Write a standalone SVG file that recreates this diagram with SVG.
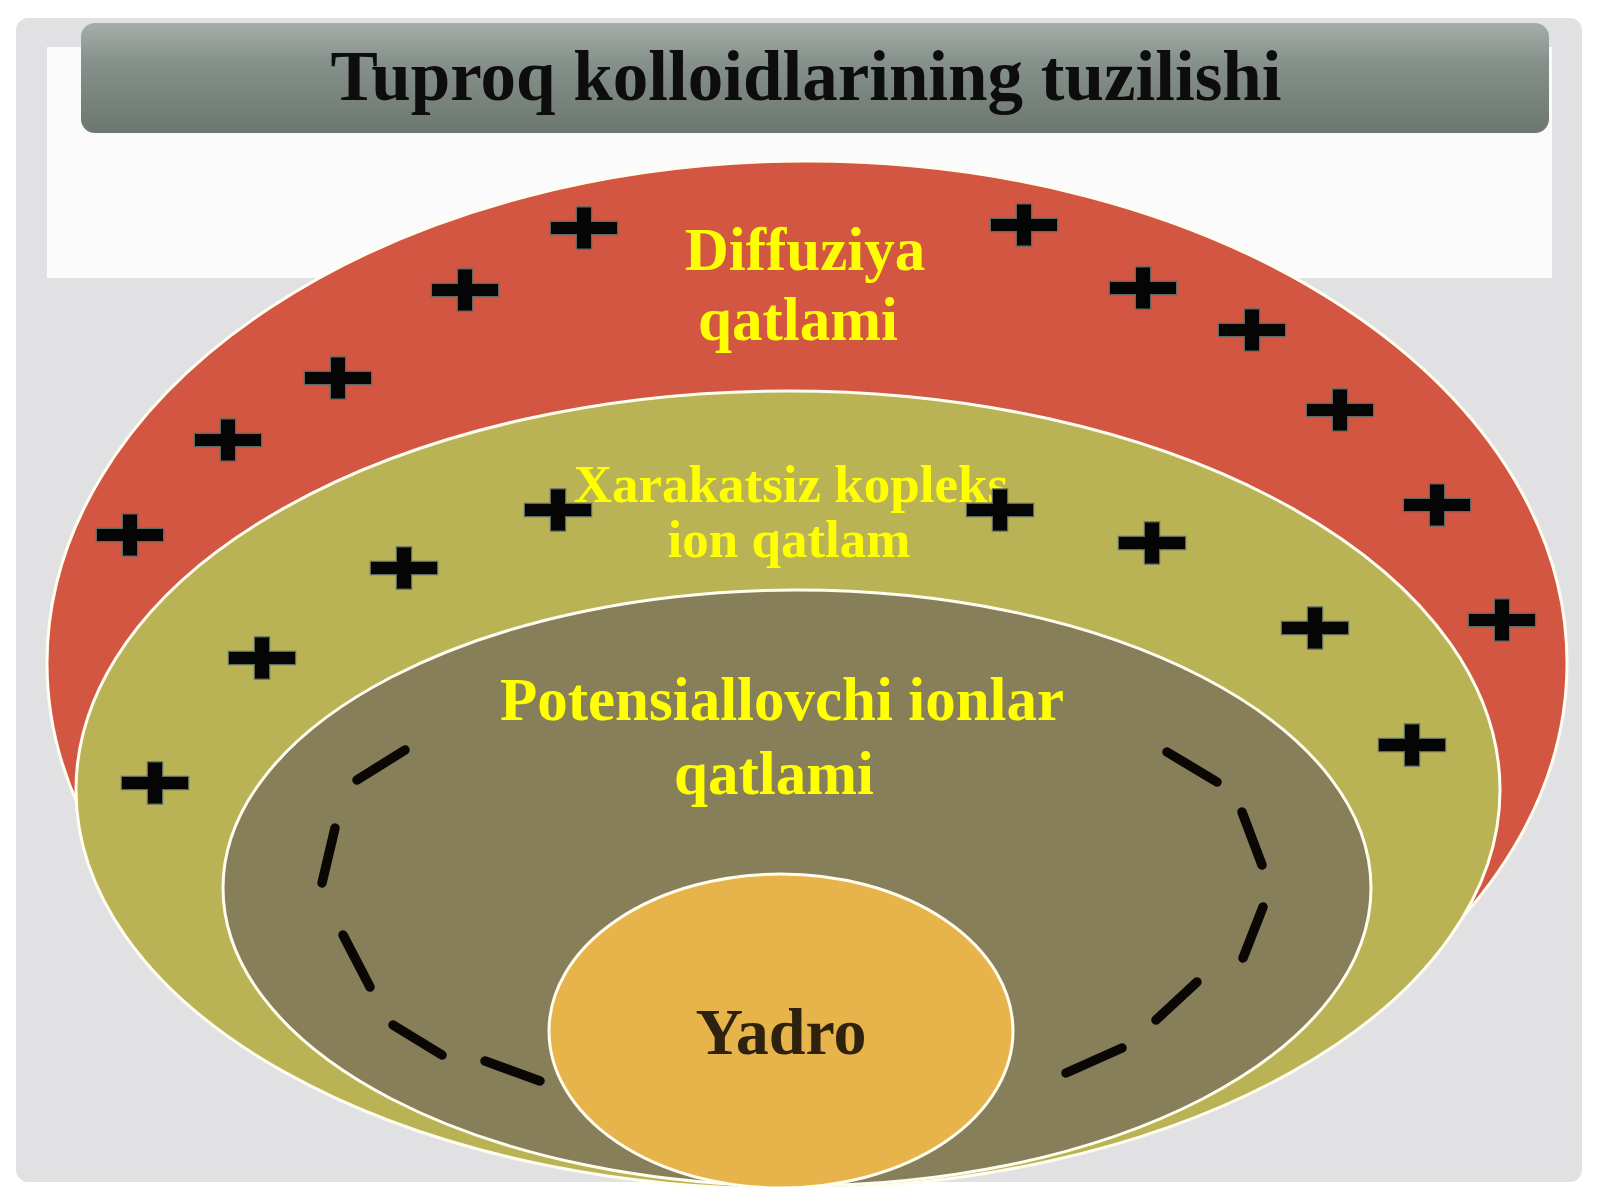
<svg xmlns="http://www.w3.org/2000/svg" xmlns:xlink="http://www.w3.org/1999/xlink" width="1600" height="1200" viewBox="0 0 1600 1200">
  <style>
    .serif { font-family: "Liberation Serif", "Times New Roman", "DejaVu Serif", serif; font-weight: bold; }
    .lbl { fill: #ffff00; text-anchor: middle; }
    .layer { stroke: #fffdf0; stroke-width: 3; }
    .plus { fill: #050505; stroke: #5f6a62; stroke-width: 2.5; paint-order: stroke; }
    .dash { stroke: #0a0704; stroke-width: 9.5; stroke-linecap: round; fill: none; }
  </style>
  <defs>
    <linearGradient id="barGrad" x1="0" y1="0" x2="0" y2="1">
      <stop offset="0" stop-color="#a5aea9"/>
      <stop offset="0.35" stop-color="#87918b"/>
      <stop offset="1" stop-color="#6c7770"/>
    </linearGradient>
    <clipPath id="slideClip">
      <rect x="0" y="0" width="1600" height="1187"/>
    </clipPath>
    <path id="plus" d="M-33,-6 H-7 V-20.5 H7 V-6 H33 V6 H7 V20.5 H-7 V6 H-33 Z"/>
  </defs>

  <rect x="0" y="0" width="1600" height="1200" fill="#ffffff"/>

  <g id="panel">
    <rect x="16" y="18" width="1566" height="1164" rx="12" fill="#e1e1e3"/>
    <rect x="47" y="47" width="1505" height="231" fill="#fbfbfb"/>
  </g>

  <g id="title">
    <rect x="81" y="23" width="1468" height="110" rx="14" fill="url(#barGrad)"/>
    <text class="serif" x="806" y="100" font-size="71" text-anchor="middle" fill="#0d0d0d">Tuproq kolloidlarining tuzilishi</text>
  </g>

  <g clip-path="url(#slideClip)">
    <g id="layer-diffuziya">
      <ellipse class="layer" cx="807" cy="663" rx="760" ry="502" fill="#d25641"/>
    </g>

    <g id="layer-xarakatsiz">
      <ellipse class="layer" cx="788" cy="790" rx="712" ry="399" fill="#bab356"/>
    </g>

    <g id="layer-potensial">
      <ellipse class="layer" cx="797" cy="888" rx="574" ry="298" fill="#867f5a"/>
    </g>

    <g id="yadro">
      <ellipse class="layer" cx="781" cy="1031" rx="232" ry="157" fill="#e7b44b"/>
      <text class="serif" x="781" y="1054" font-size="66" text-anchor="middle" fill="#2e220e">Yadro</text>
    </g>
  </g>

  <g id="labels" class="serif">
    <text class="lbl" x="805" y="270" font-size="61">Diffuziya</text>
    <text class="lbl" x="798" y="340" font-size="61">qatlami</text>
    <text class="lbl" x="791" y="502" font-size="53">Xarakatsiz kopleks</text>
    <text class="lbl" x="789" y="557" font-size="53">ion qatlam</text>
    <text class="lbl" x="782" y="720" font-size="61">Potensiallovchi ionlar</text>
    <text class="lbl" x="774" y="794" font-size="61">qatlami</text>
  </g>

  <g id="charges">
    <use class="plus" xlink:href="#plus" x="584" y="228"/>
    <use class="plus" xlink:href="#plus" x="465" y="290"/>
    <use class="plus" xlink:href="#plus" x="338" y="378"/>
    <use class="plus" xlink:href="#plus" x="228" y="440"/>
    <use class="plus" xlink:href="#plus" x="130" y="535"/>
    <use class="plus" xlink:href="#plus" x="1024" y="225"/>
    <use class="plus" xlink:href="#plus" x="1143" y="288"/>
    <use class="plus" xlink:href="#plus" x="1252" y="330"/>
    <use class="plus" xlink:href="#plus" x="1340" y="410"/>
    <use class="plus" xlink:href="#plus" x="1437" y="505"/>
    <use class="plus" xlink:href="#plus" x="1502" y="620"/>
    <use class="plus" xlink:href="#plus" x="558" y="510"/>
    <use class="plus" xlink:href="#plus" x="404" y="568"/>
    <use class="plus" xlink:href="#plus" x="262" y="658"/>
    <use class="plus" xlink:href="#plus" x="155" y="783"/>
    <use class="plus" xlink:href="#plus" x="1000" y="510"/>
    <use class="plus" xlink:href="#plus" x="1152" y="543"/>
    <use class="plus" xlink:href="#plus" x="1315" y="628"/>
    <use class="plus" xlink:href="#plus" x="1412" y="745"/>
  </g>

  <g id="dashes">
    <line class="dash" x1="357" y1="780" x2="405" y2="750"/>
    <line class="dash" x1="322" y1="883" x2="335" y2="828"/>
    <line class="dash" x1="343" y1="935" x2="370" y2="987"/>
    <line class="dash" x1="393" y1="1025" x2="442" y2="1055"/>
    <line class="dash" x1="485" y1="1061" x2="540" y2="1081"/>
    <line class="dash" x1="1167" y1="752" x2="1217" y2="782"/>
    <line class="dash" x1="1242" y1="812" x2="1262" y2="865"/>
    <line class="dash" x1="1263" y1="907" x2="1243" y2="958"/>
    <line class="dash" x1="1197" y1="982" x2="1156" y2="1020"/>
    <line class="dash" x1="1122" y1="1048" x2="1066" y2="1073"/>
  </g>
</svg>
